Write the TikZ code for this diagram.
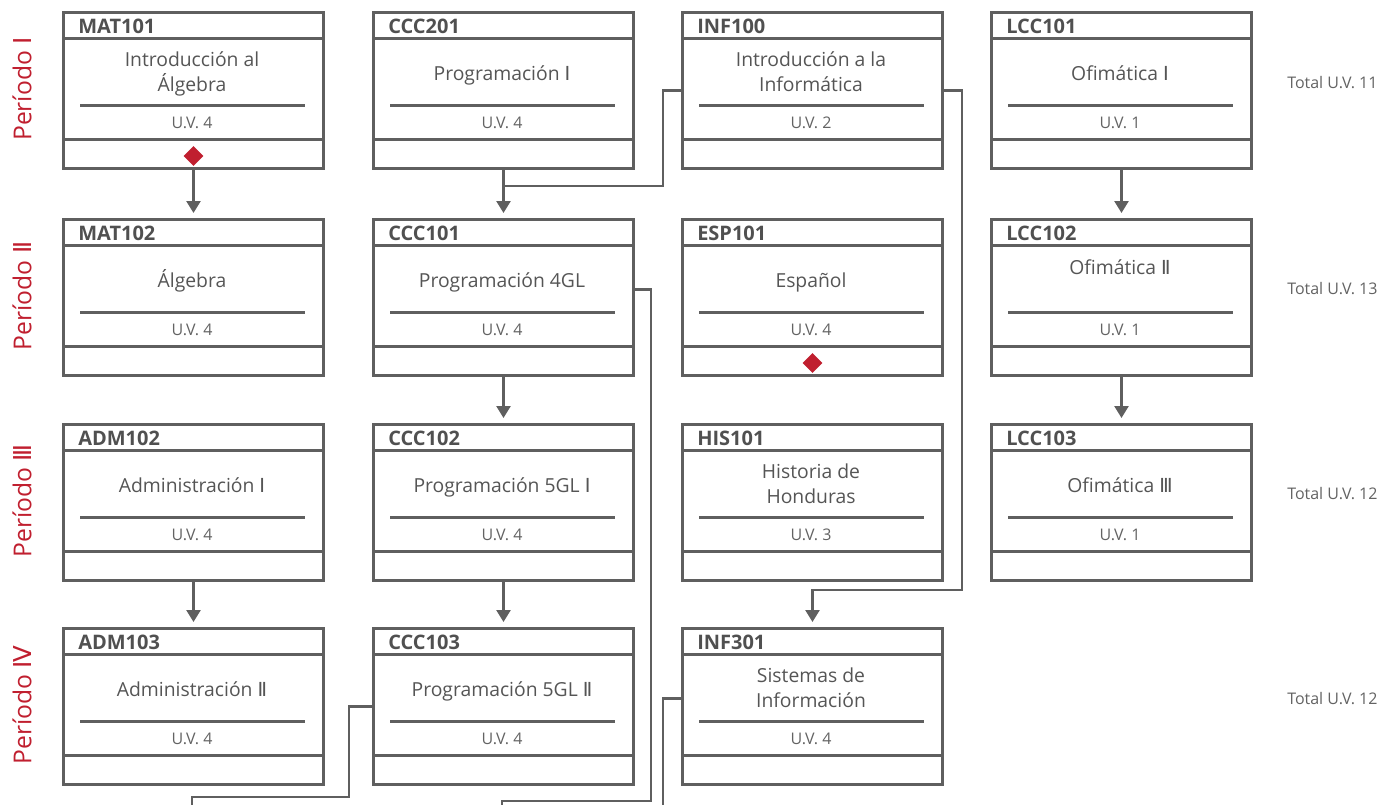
\documentclass[tikz,border=0pt]{standalone}
\usepackage{fontspec}
\setmainfont{Open Sans}
\newfontfamily\rnfont{DejaVu Sans}
\newcommand{\rn}[1]{{\rnfont #1}}
\usetikzlibrary{arrows.meta,shapes.geometric}
\definecolor{boxgray}{HTML}{5F5F5F}
\definecolor{textgray}{HTML}{555555}
\definecolor{uvgray}{HTML}{636363}
\definecolor{codegray}{HTML}{505050}
\definecolor{pred}{HTML}{C01F2F}

\begin{document}
\begin{tikzpicture}[x=0.75pt,y=-0.75pt,
    course/.style={draw=boxgray, line width=2.25pt, minimum width=195pt,
      minimum height=117pt, inner sep=0pt, anchor=north west},
    rule/.style={draw=boxgray, line width=2.25pt},
    code/.style={anchor=base west, inner sep=0pt, text=codegray,
      font=\fontsize{15}{18}\selectfont\bfseries},
    title/.style={anchor=base, inner sep=0pt, align=center, text=textgray,
      font=\fontsize{14.5}{18.75}\selectfont},
    uv/.style={anchor=base, inner sep=0pt, text=uvgray,
      font=\fontsize{12}{14}\selectfont},
    total/.style={anchor=west, inner sep=0pt, text=uvgray,
      font=\fontsize{12}{14}\selectfont},
    period/.style={rotate=90, inner sep=0pt, text=pred,
      font=\fontsize{18.5}{22}\selectfont},
    prereq/.style={diamond, fill=pred, minimum size=15pt, inner sep=0pt},
    link/.style={draw=boxgray, line width=1.9pt,
      -{Triangle[width=10.5pt,length=9pt]}, shorten >=3.75pt},
    wire/.style={draw=boxgray, line width=1.9pt}]
  \useasboundingbox (0,0) rectangle (1386,804);

  % periods
  \node[period] (p1) at (22,89) {Período \rn{Ⅰ}};
  \node[period] (p2) at (22,296) {Período \rn{Ⅱ}};
  \node[period] (p3) at (22,501) {Período \rn{Ⅲ}};
  \node[period] (p4) at (22,705) {Período \rn{Ⅳ}};

  % courses
  \foreach \cid/\x/\y/\ccode/\ctitle/\cuv/\tb in {
      mat101/62/11/MAT101/{Introducción al\\Álgebra}/4/80,
      ccc201/372/11/CCC201/{Programación \rn{Ⅰ}}/4/69,
      inf100/681/11/INF100/{Introducción a la\\Informática}/2/80,
      lcc101/990/11/LCC101/{Ofimática \rn{Ⅰ}}/1/69,
      mat102/62/218/MAT102/{Álgebra}/4/69,
      ccc101/372/218/CCC101/{Programación 4GL}/4/69,
      esp101/681/218/ESP101/{Español}/4/69,
      lcc102/990/218/LCC102/{Ofimática \rn{Ⅱ}}/1/56,
      adm102/62/423/ADM102/{Administración \rn{Ⅰ}}/4/69,
      ccc102/372/423/CCC102/{Programación 5GL \rn{Ⅰ}}/4/69,
      his101/681/423/HIS101/{Historia de\\Honduras}/3/80,
      lcc103/990/423/LCC103/{Ofimática \rn{Ⅲ}}/1/69,
      adm103/62/627/ADM103/{Administración \rn{Ⅱ}}/4/69,
      ccc103/372/627/CCC103/{Programación 5GL \rn{Ⅱ}}/4/69,
      inf301/681/627/INF301/{Sistemas de\\Información}/4/80} {
    \node[course] (\cid) at (\x,\y) {};
    \draw[rule] (\x,\y+27) -- (\x+260,\y+27);
    \draw[rule] (\x,\y+128) -- (\x+260,\y+128);
    \draw[rule] (\x+18,\y+94) -- (\x+243,\y+94);
    \node[code] (\cid-code) at (\x+16,\y+22) {\ccode};
    \node[title] (\cid-title) at (\x+130,\y+\tb) {\ctitle};
    \node[uv] (\cid-uv) at (\x+130,\y+117) {U.V. \cuv};
  }

  % totals
  \node[total] (t1) at (1287,83) {Total U.V. 11};
  \node[total] (t2) at (1287,289) {Total U.V. 13};
  \node[total] (t3) at (1287,494) {Total U.V. 12};
  \node[total] (t4) at (1287,699) {Total U.V. 12};

  % prerequisites
  \node[prereq] (d1) at ([yshift=10.5pt]mat101.south) {};
  \node[prereq] (d2) at ([yshift=10.5pt]esp101.south) {};

  \draw[link] (mat101.south) -- (mat102.north);
  \draw[link] (ccc201.south) -- (ccc101.north);
  \draw[link] (lcc101.south) -- (lcc102.north);
  \draw[link] (ccc101.south) -- (ccc102.north);
  \draw[link] (lcc102.south) -- (lcc103.north);
  \draw[link] (adm102.south) -- (adm103.north);
  \draw[link] (ccc102.south) -- (ccc103.north);

  \coordinate (j0) at (663,186);
  \coordinate (j1) at (502,186);
  \draw[wire] (inf100.west) -| (j0) -- (j1);
  \coordinate (j2) at (962,590);
  \draw[link] (inf100.east) -| (j2) -| (inf301.north);
  \coordinate (j3) at (651,801);
  \coordinate (e3) at (502,812);
  \draw[wire] ([yshift=6pt]ccc101.east) -| (j3) -| (e3);
  \coordinate (j5) at (349,797);
  \coordinate (e5) at (192,812);
  \draw[wire] (ccc103.west) -| (j5) -| (e5);
  \coordinate (e6) at (663,812);
  \draw[wire] ([yshift=6pt]inf301.west) -| (e6);
\end{tikzpicture}
\end{document}
